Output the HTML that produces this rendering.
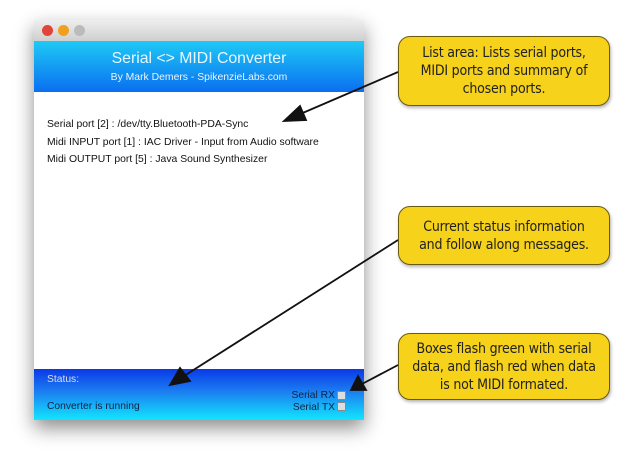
<!DOCTYPE html>
<html><head><style>
body{margin:0;width:621px;height:469px;background:#fff;position:relative;overflow:hidden;font-family:"Liberation Sans",Arial,sans-serif}
.win{position:absolute;left:34px;top:20px;width:330px;height:400px;box-shadow:0 8px 18px rgba(0,0,0,.45);background:#fff}
.tb{position:absolute;left:0;top:0;width:100%;height:21px;background:linear-gradient(#eee,#cfcfcf);border-bottom:1px solid #999}
.dot{position:absolute;top:5px;width:11px;height:11px;border-radius:50%}
.hd{position:absolute;left:0;top:22px;width:100%;height:50px;background:linear-gradient(#1ec8f5,#0a6ff0);color:#e8f6ff;text-align:center}
.list{position:absolute;left:13px;top:96px;font-size:10.4px;line-height:17.5px;color:#111}
.st{position:absolute;left:0;top:349px;width:100%;height:51px;background:linear-gradient(#0a3ae8,#1c7ff0 45%,#12e6ff);font-size:10.3px}
.box{position:absolute;left:398px;width:212px;background:#f7d21a;border:1.5px solid #6a5a10;border-radius:12px;text-align:center;font-size:14px;color:#222;line-height:18px;box-sizing:border-box;display:flex;align-items:center;justify-content:center;font-family:"DejaVu Sans Condensed","DejaVu Sans",sans-serif;box-shadow:1px 2px 3px rgba(0,0,0,.3);white-space:nowrap;letter-spacing:-0.2px}
.sq{display:inline-block;width:7px;height:7px;background:#ddd;border:1px solid #888;vertical-align:middle;margin-left:2px}
</style></head><body>
<div class="win">
 <div class="tb"><div class="dot" style="left:8px;background:#e0443a"></div><div class="dot" style="left:24px;background:#f0a020"></div><div class="dot" style="left:40px;background:#bbb"></div></div>
 <div class="hd"><div style="font-size:15.8px;margin-top:8px">Serial &lt;&gt; MIDI Converter</div><div style="font-size:10.4px;margin-top:4px">By Mark Demers - SpikenzieLabs.com</div></div>
 <div class="list">Serial port [2] : /dev/tty.Bluetooth-PDA-Sync<br>Midi INPUT port [1] : IAC Driver - Input from Audio software<br>Midi OUTPUT port [5] : Java Sound Synthesizer</div>
 <div class="st"><div style="position:absolute;left:13px;top:5px;color:#dde">Status:</div><div style="position:absolute;left:13px;top:32px;color:#124">Converter is running</div>
 <div style="position:absolute;right:18px;top:21px;color:#124;text-align:right;line-height:11.5px">Serial RX<span class="sq"></span><br>Serial TX<span class="sq"></span></div></div>
</div>
<svg width="621" height="469" style="position:absolute;left:0;top:0">
<g stroke="#111" stroke-width="1.8" fill="#111">
<line x1="398" y1="72" x2="298" y2="115"/><polygon points="284,121 300,106 306,120"/>
<line x1="398" y1="240" x2="184" y2="376"/><polygon points="170,385 180,368 190,381"/>
<line x1="398" y1="365" x2="362" y2="384"/><polygon points="351,390 358,376 366,390"/>
</g></svg>
<div class="box" style="top:36px;height:70px">List area: Lists serial ports,<br>MIDI ports and summary of<br>chosen ports.</div>
<div class="box" style="top:206px;height:59px">Current status information<br>and follow along messages.</div>
<div class="box" style="top:333px;height:67px">Boxes flash green with serial<br>data, and flash red when data<br>is not MIDI formated.</div>
</body></html>
